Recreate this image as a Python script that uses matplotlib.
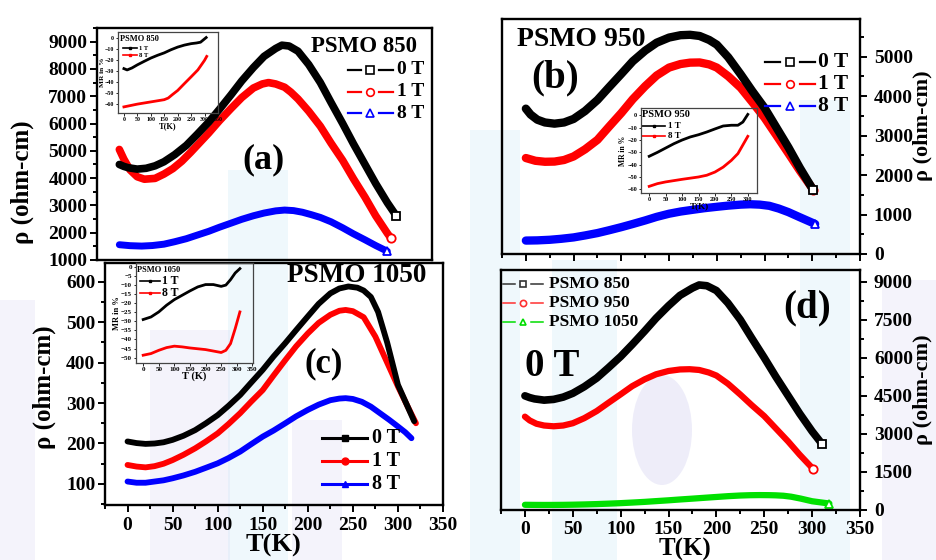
import matplotlib
matplotlib.use('Agg')
import matplotlib.pyplot as plt
from matplotlib.lines import Line2D
from matplotlib.patches import Rectangle, Ellipse
from matplotlib.ticker import MultipleLocator

plt.rcParams['font.family'] = ['Liberation Serif', 'DejaVu Serif']
plt.rcParams['font.weight'] = 'bold'
plt.rcParams['axes.labelweight'] = 'bold'

# ---------------- data ----------------
# PSMO 850
t850_0 = [0, 5, 10, 20, 30, 40, 50, 62, 75, 87, 100, 112, 125, 137, 150, 162, 175, 182, 190,
          200, 212, 225, 237, 250, 262, 275, 287, 300, 310]
r850_0 = [4500, 4430, 4380, 4330, 4360, 4450, 4600, 4860, 5200, 5600, 6050, 6520, 7050, 7560,
          8050, 8460, 8750, 8870, 8840, 8650, 8160, 7500, 6770, 6000, 5260, 4500, 3800, 3100, 2620]
t850_1 = [0, 5, 12, 20, 28, 40, 50, 60, 70, 80, 90, 100, 112, 125, 137, 150, 160, 167, 175,
          185, 192, 200, 212, 225, 237, 250, 262, 275, 287, 300, 304]
r850_1 = [5050, 4700, 4300, 4050, 3960, 3990, 4150, 4350, 4620, 4950, 5300, 5650, 6100, 6550,
          6950, 7300, 7450, 7500, 7450, 7330, 7150, 6900, 6450, 5900, 5280, 4650, 3980, 3300,
          2620, 1980, 1800]
t850_8 = [0, 12, 25, 37, 50, 62, 75, 87, 100, 112, 125, 137, 150, 162, 175, 185, 195, 205, 215,
          225, 237, 250, 262, 275, 287, 300]
r850_8 = [1560, 1525, 1510, 1530, 1580, 1670, 1780, 1910, 2050, 2200, 2350, 2490, 2620, 2720,
          2800, 2830, 2810, 2750, 2660, 2560, 2400, 2180, 1960, 1740, 1530, 1320]
# PSMO 950
t950_0 = [0, 5, 12, 20, 30, 40, 50, 62, 75, 87, 100, 112, 125, 137, 150, 162, 172, 182, 192,
          200, 212, 225, 237, 250, 262, 275, 287, 301]
r950_0 = [3680, 3530, 3400, 3330, 3300, 3330, 3420, 3620, 3900, 4220, 4560, 4880, 5150, 5350,
          5480, 5540, 5550, 5520, 5420, 5300, 4980, 4550, 4130, 3700, 3220, 2700, 2180, 1620]
t950_1 = [0, 10, 20, 30, 40, 50, 62, 75, 87, 100, 112, 125, 137, 150, 162, 172, 182, 192, 200,
          212, 225, 237, 250, 262, 275, 287, 301]
r950_1 = [2430, 2360, 2335, 2340, 2380, 2470, 2650, 2890, 3220, 3570, 3920, 4250, 4520, 4720,
          4810, 4845, 4850, 4800, 4720, 4500, 4210, 3850, 3450, 3020, 2550, 2110, 1630]
t950_8 = [0, 12, 25, 37, 50, 62, 75, 87, 100, 112, 125, 137, 150, 162, 175, 187, 200, 212, 225,
          235, 245, 255, 265, 275, 287, 303]
r950_8 = [340, 345, 360, 385, 420, 470, 530, 600, 680, 760, 850, 940, 1020, 1075, 1120, 1160,
          1195, 1225, 1250, 1260, 1250, 1220, 1150, 1060, 930, 760]
# PSMO 1050
t1050_0 = [0, 10, 20, 30, 40, 50, 62, 75, 87, 100, 112, 125, 137, 150, 162, 175, 187, 200, 212,
           225, 235, 245, 255, 262, 270, 278, 288, 300, 310, 318]
r1050_0 = [205, 201, 199, 200, 203, 209, 219, 233, 250, 270, 293, 320, 350, 382, 415, 448, 480,
           514, 545, 571, 583, 588, 585, 578, 562, 525, 450, 345, 295, 255]
t1050_1 = [0, 10, 20, 30, 40, 50, 62, 75, 87, 100, 112, 125, 137, 150, 162, 175, 187, 200, 212,
           225, 235, 242, 250, 262, 275, 287, 300, 310, 320]
r1050_1 = [147, 143, 141, 144, 150, 159, 172, 188, 205, 225, 248, 275, 303, 332, 368, 406, 440,
           472, 498, 518, 528, 530, 527, 512, 464, 405, 341, 295, 250]
t1050_8 = [0, 10, 20, 30, 40, 50, 62, 75, 87, 100, 112, 125, 137, 150, 162, 175, 187, 200, 212,
           225, 235, 242, 250, 260, 270, 280, 290, 300, 308, 315]
r1050_8 = [106, 103, 103, 106, 109, 114, 121, 130, 140, 151, 164, 180, 198, 217, 232, 250, 267,
           283, 296, 307, 311, 312, 310, 303, 291, 275, 259, 242, 228, 213]

# MR insets
mr850_t1 = [0, 12, 30, 50, 75, 100, 125, 150, 175, 200, 225, 250, 270, 285, 296, 306]
mr850_1 = [-28, -29.2, -27.4, -24.6, -21.5, -18.5, -16, -13.8, -11, -8.6, -6.8, -5.5, -4.9, -4.2,
           -2, 0]
mr850_t8 = [0, 50, 100, 150, 165, 180, 200, 225, 250, 275, 290, 300, 308]
mr850_8 = [-62.5, -60, -58, -56, -54.5, -51.5, -47.7, -41.5, -35.4, -29.2, -24, -20.5, -17]

mr950_t1 = [0, 25, 50, 75, 100, 125, 150, 175, 200, 225, 250, 270, 285, 300]
mr950_1 = [-33.2, -30, -26.5, -23, -20, -17.5, -15.7, -13.5, -11, -8.6, -8, -8, -5.4, 0.8]
mr950_t8 = [0, 25, 50, 100, 150, 175, 200, 225, 250, 270, 285, 300]
mr950_8 = [-57.6, -55.4, -54, -51.9, -50, -48.6, -46, -42, -36.5, -31, -24, -17]

mr1050_t1 = [0, 25, 50, 75, 100, 125, 150, 175, 200, 225, 250, 265, 280, 295, 310]
mr1050_1 = [-29, -27.6, -24.8, -21.1, -18, -15.6, -13.2, -11, -9.7, -9.7, -10.7, -10, -7, -3.3,
            -0.9]
mr1050_t8 = [0, 25, 50, 75, 100, 125, 150, 200, 250, 265, 280, 295, 310]
mr1050_8 = [-48.7, -47.8, -46, -44.5, -43.7, -44.1, -44.7, -45.6, -47.2, -46, -42.3, -34, -24.8]

field_labels = ['0 T', '1 T', '8 T']
sample_labels = ['PSMO 850', 'PSMO 950', 'PSMO 1050']

# ---------------- figure ----------------
W, H = 937, 560
fig = plt.figure(figsize=(W / 100, H / 100), dpi=100)


def px(x, y):
    return x / W, 1 - y / H


def box(x0, y0, x1, y1):
    return [x0 / W, 1 - y1 / H, (x1 - x0) / W, (y1 - y0) / H]


# faint watermark background
LB, LV = '#cde9f6', '#dcd8f3'
wm = [((0, 300), 35, 260, LV), ((150, 330), 80, 230, LV), ((228, 170), 60, 390, LB),
      ((292, 420), 50, 140, LV), ((470, 130), 50, 430, LB), ((552, 260), 65, 300, LB),
      ((800, 100), 50, 460, LB), ((882, 280), 55, 280, LV)]
for (x, y), w, h, c in wm:
    fig.patches.append(Rectangle(px(x, y + h), w / W, h / H, transform=fig.transFigure,
                                 facecolor=c, edgecolor='none', alpha=0.3, zorder=-2))
fig.patches.append(Ellipse(px(662, 430), 60 / W, 110 / H, transform=fig.transFigure,
                           facecolor='#cfcdf0', edgecolor='none', alpha=0.35, zorder=-2))


def style_main(ax):
    ax.set_facecolor('none')
    for s in ax.spines.values():
        s.set_linewidth(1.7)
    ax.tick_params(which='both', direction='out', width=1.4, labelsize=14)
    ax.tick_params(which='major', length=5)
    ax.tick_params(which='minor', length=3)
    ax.set_xlim(-25, 350)


def style_inset(ax, fs):
    ax.set_facecolor('none')
    for s in ax.spines.values():
        s.set_linewidth(0.9)
        s.set_color('#444444')
    ax.tick_params(which='both', direction='out', width=0.6, length=1.8, labelsize=fs, pad=1)


def legend_gap(x0, x1, y, color, marker, label, fs, lw=1.6, ms=5.5, tx=None):
    xm = (x0 + x1) / 2
    g = (x1 - x0) * 0.2
    for a, b in [(x0, xm - g), (xm + g, x1)]:
        fig.add_artist(Line2D([a / W, b / W], [1 - y / H] * 2, color=color, lw=lw,
                              transform=fig.transFigure))
    fig.add_artist(Line2D([xm / W], [1 - y / H], marker=marker, ms=ms, mfc='white',
                          mec=color, mew=1.2, transform=fig.transFigure))
    fig.text(*px(tx if tx else x1 + 4, y), label, fontsize=fs, fontweight='bold',
             va='center', ha='left')


colors = ['black', 'red', 'blue']
mk = ['s', 'o', '^']

# ---------------- panel (a) ----------------
axa = fig.add_axes(box(97, 28, 432, 260))
style_main(axa)
axa.set_ylim(1000, 9500)
axa.yaxis.set_major_locator(MultipleLocator(1000))
axa.yaxis.set_minor_locator(MultipleLocator(500))
axa.tick_params(axis='y', pad=2)
axa.tick_params(axis='x', which='both', bottom=False, labelbottom=False)
for t, r, c, m, lw in [(t850_8, r850_8, 'blue', '^', 5), (t850_1, r850_1, 'red', 'o', 5.5),
                       (t850_0, r850_0, 'black', 's', 5.5)]:
    axa.plot(t, r, color=c, lw=lw, solid_capstyle='round', solid_joinstyle='round')
    axa.plot(t[-1], r[-1], marker=m, ms=6, mfc='white', mec=c, mew=1.3)
fig.text(*px(364, 47), 'PSMO 850', fontsize=16.5, ha='center', va='center')
fig.text(*px(263, 160), '(a)', fontsize=26, ha='center', va='center')
for i, y in enumerate([70, 92, 113]):
    legend_gap(348, 393, y, colors[i], mk[i], field_labels[i], 14, ms=5.5, tx=397)
fig.text(*px(22, 182), 'ρ (ohm-cm)', fontsize=18, rotation=90, ha='center', va='center')

# ---------------- panel (b) ----------------
axb = fig.add_axes(box(502, 19, 860, 254))
style_main(axb)
axb.set_ylim(0, 5950)
axb.yaxis.tick_right()
axb.yaxis.set_major_locator(MultipleLocator(1000))
axb.yaxis.set_minor_locator(MultipleLocator(500))
axb.xaxis.set_major_locator(MultipleLocator(50))
axb.xaxis.set_minor_locator(MultipleLocator(25))
axb.tick_params(axis='y', pad=5)
axb.tick_params(axis='x', labelbottom=False)
for t, r, c, m in [(t950_8, r950_8, 'blue', '^'), (t950_1, r950_1, 'red', 'o'),
                   (t950_0, r950_0, 'black', 's')]:
    axb.plot(t, r, color=c, lw=6, solid_capstyle='round', solid_joinstyle='round')
    axb.plot(t[-1], r[-1], marker=m, ms=6, mfc='white', mec=c, mew=1.3)
fig.text(*px(581, 40), 'PSMO 950', fontsize=20, ha='center', va='center')
fig.text(*px(555, 78), '(b)', fontsize=28, ha='center', va='center')
for i, y in enumerate([62, 84, 106]):
    legend_gap(765, 815, y, colors[i], mk[i], field_labels[i], 15.5, ms=5.5, tx=818)
fig.text(*px(913, 126), 'ρ (ohm-cm)', fontsize=16, rotation=90, ha='left', va='center')

# ---------------- panel (c) ----------------
axc = fig.add_axes(box(105, 263, 443, 505))
style_main(axc)
axc.set_ylim(48, 646)
axc.yaxis.set_major_locator(MultipleLocator(100))
axc.yaxis.set_minor_locator(MultipleLocator(50))
axc.xaxis.set_major_locator(MultipleLocator(50))
axc.xaxis.set_minor_locator(MultipleLocator(25))
axc.tick_params(axis='y', pad=2)
axc.tick_params(axis='x', pad=3.5)
for t, r, c in [(t1050_8, r1050_8, 'blue'), (t1050_1, r1050_1, 'red'), (t1050_0, r1050_0, 'black')]:
    axc.plot(t, r, color=c, lw=4.2, solid_capstyle='round', solid_joinstyle='round')
fig.text(*px(357, 276), 'PSMO 1050', fontsize=19.5, ha='center', va='center')
fig.text(*px(324, 364), '(c)', fontsize=25, ha='center', va='center')
for i, y in enumerate([438, 461, 484]):
    fig.add_artist(Line2D([322 / W, 367 / W], [1 - y / H] * 2, color=colors[i], lw=2.2,
                          marker=None, transform=fig.transFigure))
    fig.add_artist(Line2D([344.5 / W], [1 - y / H], marker=mk[i], ms=5, mfc=colors[i],
                          mec=colors[i], transform=fig.transFigure))
    fig.text(*px(372, y), field_labels[i], fontsize=14.5, va='center', ha='left')
fig.text(*px(44, 387), 'ρ (ohm-cm)', fontsize=18, rotation=90, ha='center', va='center')
fig.text(*px(273, 552), 'T(K)', fontsize=19, ha='center', va='baseline')

# ---------------- panel (d) ----------------
axd = fig.add_axes(box(501, 270, 860, 510))
style_main(axd)
axd.set_ylim(0, 9460)
axd.yaxis.tick_right()
axd.yaxis.set_major_locator(MultipleLocator(1500))
axd.yaxis.set_minor_locator(MultipleLocator(750))
axd.xaxis.set_major_locator(MultipleLocator(50))
axd.xaxis.set_minor_locator(MultipleLocator(25))
axd.tick_params(axis='y', pad=5)
axd.tick_params(axis='x', pad=3)
dcol = ['black', 'red', '#00e000']
for t, r, c, m, lw in [(t1050_0, r1050_0, dcol[2], '^', 4.5), (t950_0, r950_0, dcol[1], 'o', 4.5),
                       (t850_0, r850_0, dcol[0], 's', 5.5)]:
    axd.plot(t, r, color=c, lw=lw, solid_capstyle='round', solid_joinstyle='round')
    axd.plot(t[-1], r[-1], marker=m, ms=6, mfc='white', mec=c, mew=1.3)
fig.text(*px(807, 308), '(d)', fontsize=28, ha='center', va='center')
fig.text(*px(552, 366), '0 T', fontsize=28, ha='center', va='center')
dleg = ['#333333', '#ff3030', '#00dd00']
for i, y in enumerate([284, 303, 322]):
    legend_gap(503, 543, y, dleg[i], mk[i], sample_labels[i], 12.5, lw=1.1, ms=4.5, tx=549)
fig.text(*px(913, 390), 'ρ (ohm-cm)', fontsize=16, rotation=90, ha='left', va='center')
fig.text(*px(685, 556), 'T(K)', fontsize=18, ha='center', va='baseline')


# ---------------- insets ----------------
def inset(rect, xlim, ylim, yticks, xticks, t1, m1, t8, m8, title, fs, title_fs, leg_fs,
          rows, xlab, xlab_fs):
    ax = fig.add_axes(rect)
    style_inset(ax, fs)
    ax.set_xlim(*xlim)
    ax.set_ylim(*ylim)
    ax.set_yticks(yticks)
    ax.set_xticks(xticks)
    ax.plot(t1, m1, color='black', lw=2, solid_joinstyle='round')
    ax.plot(t8, m8, color='red', lw=2, solid_joinstyle='round')
    ax.set_ylabel('MR in %', fontsize=fs + 1, labelpad=0)
    ax.set_xlabel(xlab, fontsize=xlab_fs, labelpad=0)
    ax.text(rows[0][0], rows[0][1], title, transform=ax.transAxes, fontsize=title_fs,
            va='center', ha='left')
    for (x0, x1, y, tx), col, lab in zip(rows[1:], ['black', 'red'], ['1 T', '8 T']):
        ax.plot([x0, x1], [y, y], transform=ax.transAxes, color=col, lw=1.2,
                marker=None)
        ax.plot([(x0 + x1) / 2], [y], transform=ax.transAxes, color=col, marker='s', ms=2)
        ax.text(tx, y, lab, transform=ax.transAxes, fontsize=leg_fs, va='center', ha='left')
    return ax


inset(box(118, 32, 218, 113), (-22, 350), (-68, 5), list(range(0, -61, -10)),
      list(range(0, 351, 50)), mr850_t1, mr850_1, mr850_t8, mr850_8,
      'PSMO 850', 4.3, 6, 4.8,
      [(0.02, 0.915), (0.05, 0.19, 0.80, 0.21), (0.05, 0.19, 0.71, 0.21)], 'T(K)', 6)

inset(box(641, 108, 757, 193), (-25, 328), (-63, 6), list(range(0, -61, -10)),
      list(range(0, 301, 50)), mr950_t1, mr950_1, mr950_t8, mr950_8,
      'PSMO 950', 4.5, 7.5, 6.5,
      [(0.01, 0.918), (0.01, 0.21, 0.788, 0.23), (0.01, 0.21, 0.674, 0.23)], 'T(K)', 6.5)

inset(box(136, 263, 253, 363), (-23, 352), (-53, 2.2), list(range(0, -51, -5)),
      list(range(0, 351, 50)), mr1050_t1, mr1050_1, mr1050_t8, mr1050_8,
      'PSMO 1050', 5, 6, 8.5,
      [(0.005, 0.927), (0.034, 0.206, 0.82, 0.22), (0.034, 0.206, 0.70, 0.22)], 'T (K)', 7.5)

fig.savefig('out.png', dpi=100)
